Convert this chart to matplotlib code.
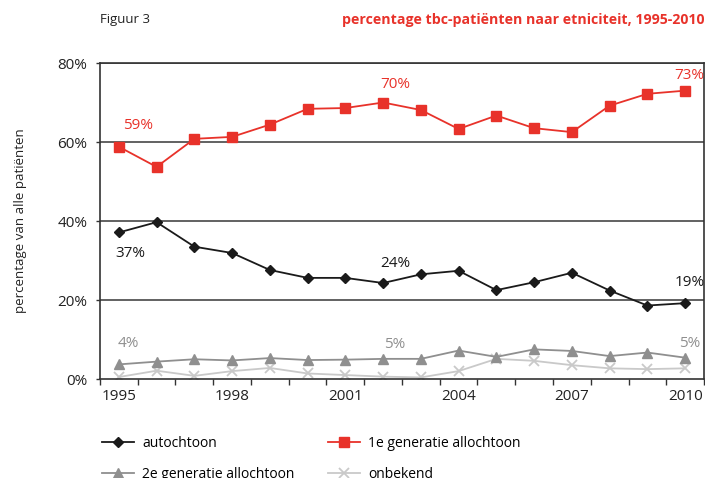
import matplotlib.pyplot as plt
from matplotlib.ticker import FixedLocator, FuncFormatter

plt.rcParams['font.family'] = ['Open Sans', 'DejaVu Sans']

years = list(range(1995, 2011))
autochtoon = [37.1, 39.7, 33.5, 31.9, 27.6, 25.6, 25.6, 24.3,
              26.5, 27.4, 22.5, 24.5, 26.9, 22.4, 18.6, 19.2]
eerste_gen = [58.8, 53.7, 60.8, 61.3, 64.4, 68.4, 68.6, 70.0,
              68.1, 63.3, 66.7, 63.5, 62.5, 69.2, 72.2, 73.0]
tweede_gen = [3.7, 4.4, 5.0, 4.7, 5.3, 4.8, 4.9, 5.1,
              5.1, 7.2, 5.6, 7.5, 7.1, 5.8, 6.7, 5.4]
onbekend = [0.5, 2.1, 0.8, 2.0, 2.8, 1.4, 1.0, 0.6,
            0.4, 2.0, 5.1, 4.6, 3.5, 2.7, 2.5, 2.7]

year_labels = [1995, 1998, 2001, 2004, 2007, 2010]
label_years = [1995, 2002, 2010]

RED = '#e8322a'
BLACK = '#1a1a1a'
GRAY = '#8f8f8f'
LIGHT = '#c9c9c9'

fig = plt.figure(figsize=(7.05, 4.78), dpi=100)
ax = fig.add_axes([0.1418, 0.2071, 0.8568, 0.6611])

l_auto, = ax.plot(years, autochtoon, color=BLACK, lw=1.3, marker='D', ms=5.5,
                  label='autochtoon', zorder=4)
l_eerste, = ax.plot(years, eerste_gen, color=RED, lw=1.3, marker='s', ms=7.5,
                    label='1e generatie allochtoon', zorder=4)
l_tweede, = ax.plot(years, tweede_gen, color=GRAY, lw=1.3, marker='^', ms=7,
                    label='2e generatie allochtoon', zorder=3)
l_onb, = ax.plot(years, onbekend, color=LIGHT, lw=1.3, marker='x', ms=7, mew=1.3,
                 label='onbekend', zorder=2)

ax.set_xlim(1994.5, 2010.5)
ax.set_ylim(0, 80)

# horizontal gridlines
for v in (20, 40, 60, 80):
    ax.axhline(v, color='#555555', lw=1.3, zorder=1)

for s in ax.spines.values():
    s.set_color('#333333')
    s.set_linewidth(1.2)

ax.set_yticks([0, 20, 40, 60, 80])
ax.yaxis.set_major_formatter(FuncFormatter(lambda v, p: f'{v:.0f}%'))
ax.tick_params(axis='y', length=3, width=1, color='#333333', labelsize=11,
               pad=6, labelcolor='#222222')

# tick marks between years, labels every third year
ax.xaxis.set_major_locator(FixedLocator([y - 0.5 for y in years] + [2010.5]))
ax.xaxis.set_major_formatter(FuncFormatter(lambda v, p: ''))
ax.xaxis.set_minor_locator(FixedLocator(year_labels))
ax.xaxis.set_minor_formatter(FuncFormatter(lambda v, p: f'{v:.0f}'))
ax.tick_params(axis='x', which='major', length=4, width=1, color='#333333')
ax.tick_params(axis='x', which='minor', length=0, labelsize=11, pad=7,
               labelcolor='#222222')

# value labels
def value_labels(series, color, offsets):
    for yr, (dx, dy) in zip(label_years, offsets):
        v = series[years.index(yr)]
        ax.annotate(f'{v:.0f}%', (yr, v), xytext=(dx, dy),
                    textcoords='offset points', ha='center', va='center',
                    color=color, fontsize=11, annotation_clip=False)

value_labels(eerste_gen, RED, [(14, 15), (9, 13), (3, 11)])
value_labels(autochtoon, BLACK, [(8, -15), (9, 14), (3, 15)])
value_labels(tweede_gen, GRAY, [(7, 15), (8, 10), (3, 10)])

ax.set_ylabel('percentage van alle patiënten', fontsize=9.5, color='#222222',
              labelpad=22)

fig.text(0.142, 0.960, 'Figuur 3', fontsize=9.5, color='#222222', va='center')
fig.text(0.999, 0.958, 'percentage tbc-patiënten naar etniciteit, 1995-2010',
         fontsize=10.2, color=RED, fontweight='bold', ha='right', va='center')

fig.legend(handles=[l_auto, l_tweede, l_eerste, l_onb], ncol=2,
           loc='upper left', bbox_to_anchor=(0.137, 0.099), frameon=False,
           fontsize=10, handlelength=2.3, columnspacing=2.4, labelspacing=1.1,
           handletextpad=0.6, borderaxespad=0)

fig.savefig('out.png', dpi=100)
